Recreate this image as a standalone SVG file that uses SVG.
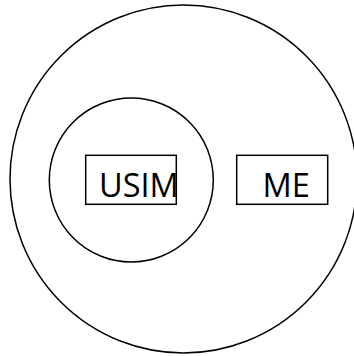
<svg xmlns="http://www.w3.org/2000/svg" width="354" height="356" viewBox="0 0 354 356">
<style>
.s{fill:none;stroke:#000;stroke-width:1.5}
.t{font-family:"Open Sans","Noto Sans",sans-serif;font-size:32.5px;fill:#000}
</style>
<rect width="354" height="356" fill="#fff"/>
<g id="outer"><ellipse class="s" cx="183.5" cy="179" rx="173.5" ry="174"/></g>
<g id="inner"><circle class="s" cx="131.3" cy="180" r="82"/></g>
<g id="usim"><rect class="s" x="85.7" y="155.3" width="90.6" height="49"/><text class="t" x="99" y="196.5">USIM</text></g>
<g id="me"><rect class="s" x="236.7" y="155.3" width="91" height="49"/><text class="t" x="262.5" y="196.5">ME</text></g>
<g id="connectors"></g>
</svg>
